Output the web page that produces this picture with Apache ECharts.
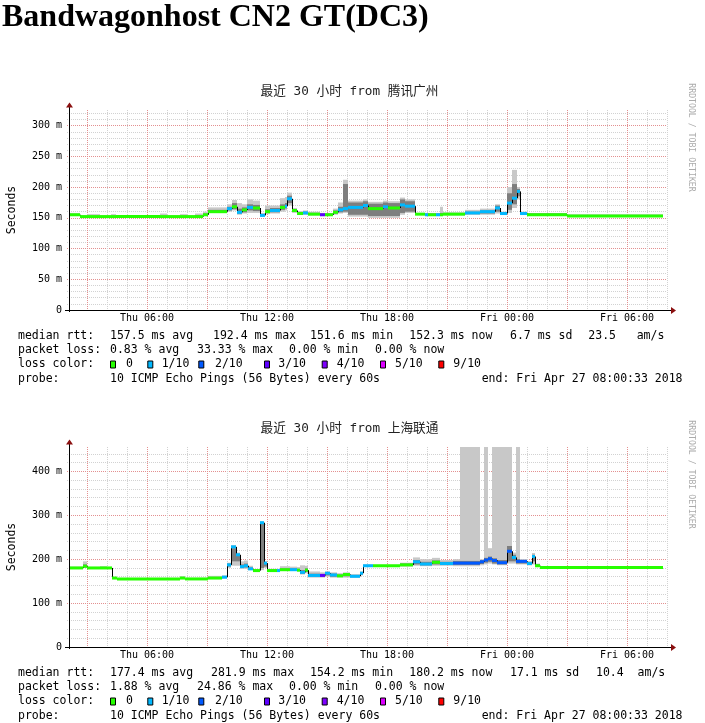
<!DOCTYPE html>
<html>
<head>
<meta charset="utf-8">
<title>Bandwagonhost CN2 GT(DC3)</title>
<script src="https://cdn.jsdelivr.net/npm/echarts@6/dist/echarts.min.js"></script>
<style>
  html, body { margin: 0; padding: 0; background: #fff; }
  #main { width: 705px; height: 723px; }
</style>
</head>
<body>
<div id="main"></div>
<script>
// time axis in hours since Thu 00:00 (window Thu 02:00 -> Fri 08:00)
var xStart = 2, xEnd = 32, dataEnd = 31.8;
var majorHours = [3, 6, 9, 12, 15, 18, 21, 24, 27, 30];
var labelHours = [6, 12, 18, 24, 30];
var hourNames = {6: 'Thu 06:00', 12: 'Thu 12:00', 18: 'Thu 18:00', 24: 'Fri 00:00', 30: 'Fri 06:00'};

var lossColors = ['#26ff00', '#00b8ff', '#0059ff', '#5e00ff', '#7e00ff', '#dd00ff', '#ff0000'];
var lossLabels = ['0', '1/10', '2/10', '3/10', '4/10', '5/10', '9/10'];

// ---- 腾讯广州 ----
var gzTitle = '最近 30 小时 from 腾讯广州';
var gzTicks = [0, 50, 100, 150, 200, 250, 300];
var gzStart = [2.10,2.65,3.00,3.65,4.20,4.45,6.65,7.00,7.65,8.00,8.40,8.80,9.05,10.00,10.25,10.50,10.75,11.00,11.30,11.65,
  11.90,12.15,12.65,12.90,13.00,13.25,13.50,13.80,14.05,14.65,14.90,15.30,15.55,15.80,16.05,16.80,17.05,17.80,18.05,18.65,
  18.90,19.40,19.90,20.05,20.45,20.65,20.80,21.90,22.65,23.40,23.65,24.00,24.25,24.50,24.65,25.00,27.00];
var gzMedian = [155,152,152,152,152,152,152,152,152,152,152,155,160,165,168,159,163,167,166,154,
  160,162,167,169,181,162,157,158,156,155,155,159,163,165,167,170,165,168,166,171,
  169,156,155,155,155,155,156,158,160,166,157,174,182,193,157,155,153];
var gzLoss = [0,0,0,0,0,0,0,0,0,0,0,0,0,1,0,1,0,1,0,1,
  0,1,0,1,1,0,0,1,0,3,0,0,1,1,1,1,0,1,0,1,
  1,0,1,0,1,0,0,1,1,1,1,1,1,1,1,0,0];
var gzSmokeLo = [154,151,151,151,151,151,151,151,151,151,151,153,158,160,162,155,157,158,158,152,
  156,157,160,162,170,158,155,155,154,153,153,155,157,158,152,152,150,150,150,155,
  158,155,154,154,154,154,154,155,155,157,155,158,166,180,155,154,152];
var gzSmokeHi = [158,154,156,154,156,154,157,154,156,154,157,160,167,172,179,174,172,180,178,158,
  170,170,182,184,191,166,161,162,160,158,158,165,175,212,178,180,176,178,177,183,
  180,158,158,158,158,168,159,163,165,172,160,200,228,200,160,158,156];
var gzCoreLo = [154,151,151,151,151,151,151,151,151,151,151,154,158,162,164,157,159,162,161,153,
  158,159,163,165,174,160,156,156,155,154,154,157,159,160,155,155,153,153,153,158,
  160,155,154,154,154,154,155,156,157,160,156,163,172,185,156,154,152];
var gzCoreHi = [156,153,153,153,153,153,153,153,153,153,154,157,163,168,174,165,167,172,171,156,
  164,166,172,174,186,164,159,160,158,157,157,162,168,205,175,177,173,175,174,180,
  177,157,157,157,157,158,157,160,162,170,159,190,205,197,158,157,154];
var gzRtt = ['157.5 ms avg', '192.4 ms max', '151.6 ms min', '152.3 ms now', '6.7 ms sd', '23.5', 'am/s'];
var gzPkt = ['0.83 % avg', '33.33 % max', '0.00 % min', '0.00 % now'];

// ---- 上海联通 ----
var shTitle = '最近 30 小时 from 上海联通';
var shTicks = [0, 100, 200, 300, 400];
var shStart = [2.10,2.80,3.00,3.65,4.00,4.25,4.50,7.65,7.90,9.05,9.75,10.00,10.20,10.45,10.65,10.85,11.05,11.30,11.65,11.85,
  12.00,12.50,12.65,13.15,13.50,13.65,13.90,14.05,14.65,14.90,15.15,15.50,15.80,16.15,16.65,16.80,17.30,18.65,19.30,19.65,
  20.25,20.65,21.30,21.65,22.65,22.85,23.05,23.25,23.50,24.00,24.25,24.45,24.65,25.00,25.25,25.40,25.65];
var shMedian = [180,184,180,180,180,157,155,157,155,157,159,187,228,210,183,185,178,174,283,191,
  174,174,176,176,175,170,175,163,163,168,164,162,165,161,168,185,185,187,194,189,
  193,190,191,191,194,198,201,197,192,218,204,195,195,190,206,185,181];
var shLoss = [0,0,0,0,0,0,0,0,0,0,1,1,1,1,1,1,1,0,1,1,
  0,1,0,1,0,1,0,1,3,1,1,0,0,1,1,1,0,0,1,1,
  0,1,2,2,2,2,2,2,2,2,1,2,2,1,1,0,0];
var shSmokeLo = [179,180,179,179,179,156,154,155,154,155,156,180,185,185,178,178,175,173,175,180,
  172,172,173,173,172,165,168,158,158,160,158,158,158,158,163,183,183,183,185,184,
  185,185,184,184,186,188,190,188,186,190,190,188,188,186,188,182,180];
var shSmokeHi = [183,195,182,184,182,159,157,161,157,162,163,192,232,215,195,197,185,177,286,195,
  178,178,184,183,182,186,185,172,170,172,170,168,170,166,172,188,187,192,204,200,
  203,198,200,456,200,456,225,456,456,456,215,456,200,196,214,190,183];
var shCoreLo = [179,181,179,179,179,156,154,156,154,156,157,183,195,195,180,181,176,173,180,183,
  173,173,174,174,173,167,171,160,160,163,160,160,161,159,165,184,184,185,188,186,
  188,187,187,187,189,192,194,190,188,195,195,190,190,188,195,183,180];
var shCoreHi = [181,188,181,181,181,158,156,158,156,159,161,190,225,212,188,190,181,176,282,193,
  176,176,179,179,178,175,179,167,166,170,167,165,168,163,170,186,186,190,198,194,
  197,194,196,196,198,203,206,202,198,230,210,200,198,193,210,188,182];
var shRtt = ['177.4 ms avg', '281.9 ms max', '154.2 ms min', '180.2 ms now', '17.1 ms sd', '10.4', 'am/s'];
var shPkt = ['1.88 % avg', '24.86 % max', '0.00 % min', '0.00 % now'];

var probeText = '10 ICMP Echo Pings (56 Bytes) every 60s';
var endText = 'end: Fri Apr 27 08:00:33 2018';

// ---- layout ----
var MONO = '"DejaVu Sans Mono"';
var plots = [
  {top: 110, yMax: 325.5, minorStep: 10, title: gzTitle, ticks: gzTicks, rtt: gzRtt, pkt: gzPkt,
   rttX: [110, 213, 310, 409.3, 510, 588.3, 636.7], pktX: [110, 197, 289, 375],
   rows: buildRows(gzStart, gzMedian, gzLoss, gzSmokeLo, gzSmokeHi, gzCoreLo, gzCoreHi)},
  {top: 447, yMax: 455.4, minorStep: 20, title: shTitle, ticks: shTicks, rtt: shRtt, pkt: shPkt,
   rttX: [110, 211, 310, 409.3, 510, 596, 637.6], pktX: [110, 197, 289, 375],
   rows: buildRows(shStart, shMedian, shLoss, shSmokeLo, shSmokeHi, shCoreLo, shCoreHi)}
];
var plotLeft = 67, plotW = 600, plotH = 200;
var squareX = [110, 147.3, 198.3, 264, 321.7, 380, 438.3];
var squareTextX = [126, 161.7, 215, 278.3, 336.7, 395, 453.3];

function buildRows(start, med, loss, lo, hi, clo, chi) {
  return start.map(function (t, i) {
    var t1 = i + 1 < start.length ? start[i + 1] : dataEnd;
    var prev = i > 0 ? med[i - 1] : med[i];
    return [t, t1, lo[i], hi[i], clo[i], chi[i], med[i], loss[i], prev];
  });
}

function renderSmoke(params, api) {
  var t0 = api.value(0), t1 = api.value(1);
  var cs = params.coordSys;
  var box = {x: cs.x, y: cs.y, width: cs.width, height: cs.height};
  var kids = [];
  function band(lo, hi, fill) {
    var a = api.coord([t0, hi]), b = api.coord([t1, lo]);
    var r = echarts.graphic.clipRectByRect({x: a[0], y: a[1], width: b[0] - a[0], height: b[1] - a[1]}, box);
    if (r) kids.push({type: 'rect', shape: r, style: {fill: fill}});
  }
  band(api.value(2), api.value(3), '#c8c8c8');
  band(api.value(4), api.value(5), '#7e7e7e');
  var m = api.coord([t0, api.value(6)]);
  var e = api.coord([t1, api.value(6)]);
  var p = api.coord([t0, api.value(8)]);
  if (Math.abs(p[1] - m[1]) > 0.5) {
    kids.push({type: 'line', shape: {x1: m[0] + 0.5, y1: p[1], x2: m[0] + 0.5, y2: m[1]},
      style: {stroke: '#000', lineWidth: 1}});
  }
  kids.push({type: 'rect', shape: {x: m[0], y: m[1] - 1.5, width: e[0] - m[0], height: 3},
    style: {fill: lossColors[api.value(7)]}});
  return {type: 'group', children: kids};
}

function txt(x, y, s, font, fill, align, rot) {
  return {type: 'text', x: x, y: y, rotation: rot || 0, silent: true, z: 100,
    style: {text: s, x: 0, y: 0, font: font, fill: fill || '#000',
      align: align || 'left', verticalAlign: 'middle',
      textAlign: align || 'left', textVerticalAlign: 'middle'}};
}

var grids = [], xAxes = [], yAxes = [], series = [], graphics = [];
graphics.push(txt(2, 18, 'Bandwagonhost CN2 GT(DC3)', 'bold 32px "Liberation Serif"', '#000'));

plots.forEach(function (pl, g) {
  var T = pl.top, B = pl.top + plotH;
  grids.push({left: plotLeft, top: T, width: plotW, height: plotH});

  var minorX = [];
  for (var h = xStart + 1; h <= xEnd; h++) if (h % 3 !== 0) minorX.push(h);
  var majorStep = pl.ticks[1] - pl.ticks[0];
  var minorY = [];
  for (var v = pl.minorStep; v < pl.yMax; v += pl.minorStep) if (v % majorStep !== 0) minorY.push(v);

  var gridLineMinor = {show: true, lineStyle: {color: '#d2d2d2', width: 1, type: [1, 1]}};
  var gridLineMajor = {show: true, lineStyle: {color: '#e39090', width: 1, type: [1, 1]}};

  xAxes.push({gridIndex: g, type: 'value', position: 'bottom', min: xStart, max: xEnd,
    axisLine: {show: false}, axisTick: {show: false, customValues: minorX},
    axisLabel: {show: false}, splitLine: gridLineMinor});
  xAxes.push({gridIndex: g, type: 'value', position: 'bottom', min: xStart, max: xEnd,
    axisLine: {show: false}, axisTick: {show: false, customValues: majorHours},
    axisLabel: {customValues: labelHours, margin: 3, color: '#000', fontFamily: MONO, fontSize: 10,
      formatter: function (val) { return hourNames[val] || ''; }},
    splitLine: gridLineMajor});
  yAxes.push({gridIndex: g, type: 'value', position: 'left', min: 0, max: pl.yMax,
    axisLine: {show: false}, axisTick: {show: false, customValues: minorY},
    axisLabel: {show: false}, splitLine: gridLineMinor});
  yAxes.push({gridIndex: g, type: 'value', position: 'left', min: 0, max: pl.yMax,
    axisLine: {show: false}, axisTick: {show: false, customValues: pl.ticks},
    axisLabel: {customValues: pl.ticks, margin: 5, color: '#000', fontFamily: MONO, fontSize: 10,
      formatter: function (val) { return val === 0 ? '0' : val + ' m'; }},
    splitLine: gridLineMajor});

  series.push({type: 'custom', xAxisIndex: 2 * g + 1, yAxisIndex: 2 * g + 1, silent: true,
    renderItem: renderSmoke, data: pl.rows, encode: {x: [0, 1], y: [2, 3]}});

  // axes with arrows
  var ax = plotLeft + 2.5;
  graphics.push({type: 'line', z: 100, silent: true, shape: {x1: ax, y1: B + 2, x2: ax, y2: T - 3},
    style: {stroke: '#000', lineWidth: 1}});
  graphics.push({type: 'line', z: 100, silent: true, shape: {x1: plotLeft - 2, y1: B + 0.5, x2: plotLeft + plotW + 4, y2: B + 0.5},
    style: {stroke: '#000', lineWidth: 1}});
  graphics.push({type: 'polygon', z: 101, silent: true,
    shape: {points: [[ax - 3.5, T - 2.5], [ax + 3.5, T - 2.5], [ax, T - 7.5]]}, style: {fill: '#8b1010'}});
  graphics.push({type: 'polygon', z: 101, silent: true,
    shape: {points: [[plotLeft + plotW + 4, B - 3], [plotLeft + plotW + 4, B + 4], [plotLeft + plotW + 9, B + 0.5]]},
    style: {fill: '#8b1010'}});

  graphics.push(txt(349.5, T - 18.3, pl.title, '12.7px ' + MONO + ', "Noto Sans CJK SC"', '#222', 'center'));
  graphics.push(txt(12.3, T + plotH / 2, 'Seconds', '11.5px ' + MONO, '#000', 'center', Math.PI / 2));
  graphics.push(txt(691, T + 27.5, 'RRDTOOL / TOBI OETIKER', '8.2px ' + MONO, '#ababab', 'center', -Math.PI / 2));

  var f = '11.5px ' + MONO;
  var y1 = B + 26, y2 = B + 40.5, y3 = B + 54.5, y4 = B + 69;
  graphics.push(txt(18, y1, 'median rtt:', f));
  pl.rtt.forEach(function (s, i) { graphics.push(txt(pl.rttX[i], y1, s, f)); });
  graphics.push(txt(18, y2, 'packet loss:', f));
  pl.pkt.forEach(function (s, i) { graphics.push(txt(pl.pktX[i], y2, s, f)); });
  graphics.push(txt(18, y3, 'loss color:', f));
  lossLabels.forEach(function (s, i) {
    graphics.push({type: 'rect', z: 100, silent: true,
      shape: {x: squareX[i] + 0.5, y: y3 - 3.5, width: 5, height: 7},
      style: {fill: lossColors[i], stroke: '#000', lineWidth: 1}});
    graphics.push(txt(squareTextX[i], y3, s, f));
  });
  graphics.push(txt(18, y4, 'probe:', f));
  graphics.push(txt(110, y4, probeText, f));
  graphics.push(txt(481.7, y4, endText, f));
});

var chart = echarts.init(document.getElementById('main'), null, {renderer: 'canvas'});
chart.setOption({
  animation: false,
  backgroundColor: '#fff',
  grid: grids,
  xAxis: xAxes,
  yAxis: yAxes,
  series: series,
  graphic: {elements: graphics}
});
</script>
</body>
</html>
